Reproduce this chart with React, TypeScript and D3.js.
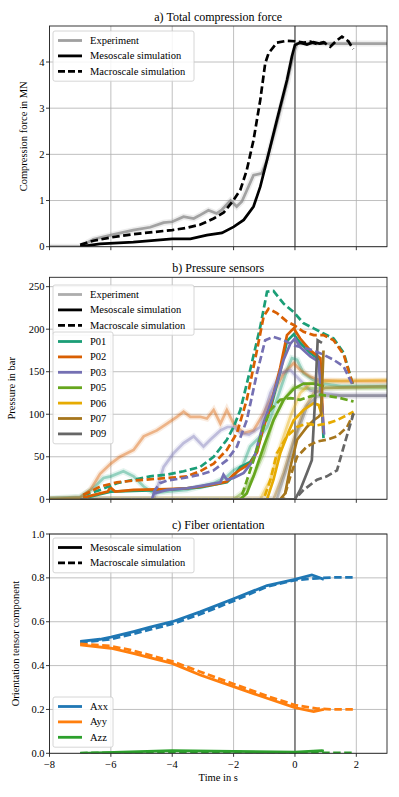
import React from "react";
import * as d3 from "d3";

type Pt = [number, number];

// a) total compression force (t in s, MN)
const forceExperiment: Pt[] = [[-8,0],[-7,0],[-6.57,0.16],[-6,0.25],[-5.27,0.36],[-4.72,0.42],[-4.28,0.52],[-4,0.54],[-3.63,0.65],[-3.3,0.61],[-3.08,0.69],[-2.82,0.79],[-2.55,0.72],[-2.38,0.8],[-2.1,1.0],[-1.9,0.87],[-1.73,0.98],[-1.35,1.55],[-1.08,1.59],[-0.91,1.88],[-0.59,2.67],[-0.26,3.54],[-0.04,4.19],[0.07,4.4],[0.5,4.41],[1,4.4],[2,4.4],[3,4.4]];
const forceMeso: Pt[] = [[-7,0],[-6.36,0.06],[-5.27,0.1],[-4,0.17],[-3.41,0.17],[-2.87,0.25],[-2.38,0.3],[-2,0.43],[-1.67,0.58],[-1.35,0.87],[-1.13,1.3],[-0.91,1.88],[-0.59,2.74],[-0.26,3.61],[-0.1,4.12],[0,4.37],[0.17,4.42],[0.39,4.38],[0.6,4.43],[0.8,4.4],[1.0,4.42]];
const forceMacro: Pt[] = [[-7,0.04],[-6.57,0.13],[-6,0.2],[-5.27,0.27],[-4.72,0.31],[-4,0.36],[-3.52,0.41],[-3.08,0.48],[-2.65,0.61],[-2.32,0.74],[-2,1.01],[-1.78,1.23],[-1.57,1.66],[-1.35,2.31],[-1.13,3.18],[-0.97,3.97],[-0.86,4.19],[-0.59,4.42],[-0.26,4.46],[0,4.45],[0.28,4.42],[0.5,4.44],[0.72,4.39],[0.93,4.43],[1.15,4.33],[1.37,4.47],[1.53,4.55],[1.74,4.45],[1.9,4.28]];

// b) pressure sensors (bar)
const sensorNames = ["P01", "P02", "P03", "P05", "P06", "P07", "P09"];
const sensorColors = ["#1b9e77", "#d95f02", "#7570b3", "#66a61e", "#e6ab02", "#a6761d", "#666666"];

const p01Exp: Pt[] = [[-8,1],[-7,3],[-6.57,13],[-6.24,25],[-6,27],[-5.59,33],[-5.26,27],[-4.93,15],[-4.6,7],[-4.17,9],[-3.52,11],[-3.09,15],[-2.65,19],[-2.2,27],[-2,34],[-1.7,40],[-1.46,62],[-1.13,74],[-0.91,85],[-0.59,117],[-0.26,152],[-0.1,166],[0.07,164],[0.28,148],[0.61,140],[0.93,136],[1.5,133],[3,133]];
const p02Exp: Pt[] = [[-8,0],[-7,2],[-6.67,11],[-6.35,30],[-6,42],[-5.7,50],[-5.26,58],[-4.93,74],[-4.5,81],[-4.17,89],[-3.85,97],[-3.63,103],[-3.41,97],[-3.09,97],[-2.87,95],[-2.65,105],[-2.43,89],[-2.22,105],[-2,89],[-1.67,78],[-1.35,81],[-1.02,101],[-0.7,125],[-0.37,148],[-0.04,160],[0.17,152],[0.5,144],[0.83,140],[1.5,139],[3,139]];
const p03Exp: Pt[] = [[-8,0],[-4.6,0],[-4.28,38],[-3.96,54],[-3.63,66],[-3.3,74],[-2.98,62],[-2.76,70],[-2.43,81],[-2.2,85],[-2,85],[-1.78,78],[-1.5,76],[-1.13,85],[-0.8,125],[-0.48,148],[-0.15,152],[0.17,140],[0.5,128],[0.93,125],[1.5,122],[3,122]];
const p05Exp: Pt[] = [[-8,0],[-2,0],[-1.7,8],[-1.35,27],[-1.02,54],[-0.7,93],[-0.37,117],[-0.04,132],[0.28,130],[1,131],[3,131]];
const p06Exp: Pt[] = [[-8,0],[-1.13,0],[-0.8,23],[-0.48,62],[-0.15,97],[0.17,125],[0.5,136],[1,139],[3,140]];
const p07Exp: Pt[] = [[-8,0],[-0.7,0],[-0.37,31],[-0.04,70],[0.28,105],[0.61,125],[1,131],[3,133]];
const p09Exp: Pt[] = [[-8,0],[-0.59,0],[-0.26,38],[0.07,78],[0.39,109],[0.72,121],[1.2,122],[3,122]];

const p01Meso: Pt[] = [[-6.9,1],[-6.35,6],[-6,9],[-5.26,10],[-4.17,11],[-3.09,14],[-2.22,20],[-2,27],[-1.78,38],[-1.46,44],[-1.24,56],[-1.02,88],[-0.8,106],[-0.48,150],[-0.26,186],[-0.04,194],[0.17,184],[0.5,172],[0.8,164],[0.93,72]];
const p02Meso: Pt[] = [[-6.9,2],[-6.35,7],[-6.1,9],[-6.02,14],[-5.86,9],[-5.26,11],[-4.17,12],[-3.52,13],[-3.09,15],[-2.54,18],[-2.22,21],[-2,29],[-1.78,35],[-1.46,42],[-1.24,55],[-1.02,85],[-0.8,109],[-0.48,155],[-0.26,193],[-0.04,201],[0.17,189],[0.5,175],[0.83,166],[0.93,78]];
const p03Meso: Pt[] = [[-4.66,0],[-4.6,7],[-4.17,11],[-3.52,13],[-2.87,17],[-2.43,20],[-2.33,29],[-2.22,23],[-2,25],[-1.67,31],[-1.35,46],[-1.02,90],[-0.7,123],[-0.37,164],[-0.15,183],[0,189],[0.17,179],[0.5,168],[0.77,162],[0.95,76]];
const p05Meso: Pt[] = [[-7,0],[-1.78,0],[-1.57,7],[-1.35,27],[-1.02,62],[-0.7,93],[-0.37,117],[-0.04,130],[0.28,136],[0.61,136],[0.83,134],[0.95,133]];
const p06Meso: Pt[] = [[-7,0],[-0.91,0],[-0.7,23],[-0.48,54],[-0.2,80],[-0.04,93],[0.28,105],[0.61,113],[0.77,111],[0.9,97]];
const p07Meso: Pt[] = [[-7,0],[-0.48,0],[-0.32,7],[-0.15,38],[0.07,70],[0.39,85],[0.61,93],[0.77,97],[0.85,100],[0.93,175]];
const p09Meso: Pt[] = [[-7,0],[0,0],[0.17,11],[0.39,31],[0.55,46],[0.66,120],[0.74,187],[0.88,184]];

const p01Macro: Pt[] = [[-6.9,5],[-6.35,11],[-5.8,19],[-5.26,23],[-4.72,27],[-4.17,29],[-3.63,33],[-3.09,38],[-2.65,50],[-2.22,70],[-2,85],[-1.78,105],[-1.46,152],[-1.13,203],[-0.91,244],[-0.7,245],[-0.37,230],[-0.04,220],[0.28,207],[0.61,201],[0.93,195],[1.26,189],[1.59,172],[1.91,132]];
const p02Macro: Pt[] = [[-6.9,5],[-6.35,15],[-5.8,20],[-5.26,22],[-4.17,25],[-3.52,27],[-3.09,33],[-2.65,42],[-2.22,58],[-1.89,78],[-1.57,117],[-1.24,175],[-1.02,215],[-0.86,224],[-0.59,219],[-0.26,209],[-0.04,205],[0.28,197],[0.61,193],[0.93,193],[1.26,187],[1.59,170],[1.91,132]];
const p03Macro: Pt[] = [[-4.62,8],[-4.4,19],[-4.17,22],[-3.63,25],[-3.09,29],[-2.65,34],[-2.22,46],[-1.89,62],[-1.57,93],[-1.24,148],[-0.97,187],[-0.7,191],[-0.37,187],[-0.04,181],[0.3,178],[0.61,175],[0.93,170],[1.26,164],[1.59,156],[1.91,132]];
const p05Macro: Pt[] = [[-7,0],[-1.78,0],[-1.67,11],[-1.35,46],[-1.02,85],[-0.8,105],[-0.48,117],[-0.15,119],[0.17,117],[0.5,121],[0.83,123],[1.15,121],[1.48,119],[1.91,115]];
const p06Macro: Pt[] = [[-7,0],[-1.02,0],[-0.8,23],[-0.59,54],[-0.26,74],[0.07,85],[0.39,89],[0.72,87],[1.04,89],[1.37,93],[1.7,99],[1.91,103]];
const p07Macro: Pt[] = [[-7,0],[-0.37,0],[-0.15,27],[0.07,50],[0.39,62],[0.72,68],[1.04,70],[1.37,74],[1.7,85],[1.91,101]];
const p09Macro: Pt[] = [[-7,0],[0,0],[0.28,11],[0.72,23],[1.04,27],[1.37,34],[1.59,62],[1.91,101]];

const sensorExp = [p01Exp, p02Exp, p03Exp, p05Exp, p06Exp, p07Exp, p09Exp];
const sensorMeso = [p01Meso, p02Meso, p03Meso, p05Meso, p06Meso, p07Meso, p09Meso];
const sensorMacro = [p01Macro, p02Macro, p03Macro, p05Macro, p06Macro, p07Macro, p09Macro];

// c) fiber orientation
const orientNames = ["Axx", "Ayy", "Azz"];
const orientColors = ["#1f77b4", "#ff7f0e", "#2ca02c"];
const axxMeso: Pt[] = [[-7,0.51],[-6.35,0.52],[-6,0.53],[-5.26,0.555],[-4.72,0.575],[-4,0.6],[-3.09,0.645],[-2,0.705],[-0.91,0.765],[0,0.793],[0.55,0.813],[0.72,0.805],[0.94,0.793]];
const axxMacro: Pt[] = [[-7,0.505],[-6,0.52],[-5.26,0.545],[-4,0.59],[-3.09,0.634],[-2,0.695],[-0.91,0.76],[0,0.79],[0.72,0.798],[1.26,0.802],[1.91,0.802]];
const ayyMeso: Pt[] = [[-7,0.494],[-6,0.479],[-5.27,0.456],[-4,0.41],[-3.09,0.357],[-2,0.304],[-0.91,0.251],[0,0.208],[0.61,0.19],[0.94,0.2]];
const ayyMacro: Pt[] = [[-7,0.499],[-6,0.489],[-5.27,0.468],[-4,0.419],[-3.09,0.372],[-2,0.316],[-0.91,0.261],[0,0.22],[0.72,0.204],[1.26,0.2],[1.91,0.2]];
const azzMeso: Pt[] = [[-7,0],[-4,0.012],[-2,0.009],[0,0.005],[0.88,0.012],[0.94,0.01]];
const azzMacro: Pt[] = [[-7,0.001],[-4,0.005],[-2,0.005],[0,0.003],[1,0.002],[1.91,0.002]];
const orientMeso = [axxMeso, ayyMeso, azzMeso];
const orientMacro = [axxMacro, ayyMacro, azzMacro];

const xTicks = [-8, -6, -4, -2, 0, 2];
const forceTicks = [0, 1, 2, 3, 4];
const pressureTicks = [0, 50, 100, 150, 200, 250];
const orientTicks = [0, 0.2, 0.4, 0.6, 0.8, 1.0];

const FONT = "Liberation Serif, Times New Roman, DejaVu Serif, serif";
const LEFT = 49.5;
const RIGHT = 387;
const x = d3.scaleLinear().domain([-8, 3]).range([LEFT, RIGHT]);
const DASH = "7.5,3.5";
const LW = 2.7;

function pathOf(data: Pt[], y: d3.ScaleLinear<number, number>) {
  return d3.line<Pt>().x((d) => x(d[0])).y((d) => y(d[1]))(data) || "";
}

function Panel({ id, top, bottom, yMax, yTicks, fmt, title, ylabel, ylabelX, xLabels, children }: any) {
  const y = d3.scaleLinear().domain([0, yMax]).range([bottom, top]);
  return (
    <g>
      <defs>
        <clipPath id={id}>
          <rect x={LEFT} y={top} width={RIGHT - LEFT} height={bottom - top} />
        </clipPath>
      </defs>
      {xTicks.map((t) => (
        <line key={"gx" + t} x1={x(t)} x2={x(t)} y1={top} y2={bottom} stroke="#b0b0b0" strokeWidth={0.8} />
      ))}
      {yTicks.map((t: number) => (
        <line key={"gy" + t} x1={LEFT} x2={RIGHT} y1={y(t)} y2={y(t)} stroke="#b0b0b0" strokeWidth={0.8} />
      ))}
      <line x1={x(0)} x2={x(0)} y1={top} y2={bottom} stroke="#777" strokeWidth={1.6} />
      <g clipPath={`url(#${id})`}>{children(y)}</g>
      <rect x={LEFT} y={top} width={RIGHT - LEFT} height={bottom - top} fill="none" stroke="#222" strokeWidth={0.9} />
      {xTicks.map((t) => (
        <g key={"tx" + t}>
          <line x1={x(t)} x2={x(t)} y1={bottom} y2={bottom + 3.5} stroke="#222" strokeWidth={0.9} />
          {xLabels && (
            <text x={x(t)} y={bottom + 14.5} textAnchor="middle" fontSize={10.5} fontFamily={FONT}>
              {t < 0 ? "\u2212" + Math.abs(t) : t}
            </text>
          )}
        </g>
      ))}
      {yTicks.map((t: number) => (
        <g key={"ty" + t}>
          <line x1={LEFT - 3.5} x2={LEFT} y1={y(t)} y2={y(t)} stroke="#222" strokeWidth={0.9} />
          <text x={LEFT - 5} y={y(t) + 3.6} textAnchor="end" fontSize={10.5} fontFamily={FONT}>
            {fmt(t)}
          </text>
        </g>
      ))}
      <text x={(LEFT + RIGHT) / 2} y={top - 5} textAnchor="middle" fontSize={12} fontFamily={FONT}>
        {title}
      </text>
      <text
        transform={`translate(${ylabelX},${(top + bottom) / 2}) rotate(-90)`}
        textAnchor="middle"
        fontSize={10.5}
        fontFamily={FONT}
      >
        {ylabel}
      </text>
    </g>
  );
}

type Entry = { label: string; color: string; dash?: string; opacity?: number };

function Legend({ x0, y0, w, entries }: { x0: number; y0: number; w: number; entries: Entry[] }) {
  const step = 15.4;
  const h = entries.length * step + 4;
  return (
    <g>
      <rect x={x0} y={y0} width={w} height={h} rx={2} fill="white" fillOpacity={0.85} stroke="#cccccc" strokeWidth={0.8} />
      {entries.map((e, i) => {
        const cy = y0 + 9.5 + i * step;
        return (
          <g key={e.label}>
            <line x1={x0 + 5} x2={x0 + 29} y1={cy} y2={cy} stroke={e.color} strokeWidth={2.8} strokeDasharray={e.dash} strokeOpacity={e.opacity ?? 1} />
            <text x={x0 + 37} y={cy + 3.5} fontSize={10.5} fontFamily={FONT}>
              {e.label}
            </text>
          </g>
        );
      })}
    </g>
  );
}

const simEntries: Entry[] = [
  { label: "Mesoscale simulation", color: "#000" },
  { label: "Macroscale simulation", color: "#000", dash: "7,3" },
];

export default function App() {
  return (
    <svg width={399} height={797} style={{ position: "absolute", left: 0, top: 0 }} fontFamily={FONT}>
      <rect width={399} height={797} fill="white" />
      <Panel
        id="cpa"
        top={26}
        bottom={246.7}
        yMax={4.78}
        yTicks={forceTicks}
        fmt={(t: number) => String(t)}
        title="a) Total compression force"
        ylabel="Compression force in MN"
        ylabelX={27}
        xLabels={false}
      >
        {(y: any) => (
          <g fill="none">
            <path d={pathOf(forceExperiment, y)} stroke="#888" strokeWidth={6} strokeOpacity={0.15} />
            <path d={pathOf(forceExperiment, y)} stroke="#888" strokeWidth={LW} strokeOpacity={0.75} />
            <path d={pathOf(forceMeso, y)} stroke="#000" strokeWidth={LW} />
            <path d={pathOf(forceMacro, y)} stroke="#000" strokeWidth={LW} strokeDasharray={DASH} />
          </g>
        )}
      </Panel>
      <Legend x0={53} y0={31} w={141} entries={[{ label: "Experiment", color: "#888", opacity: 0.8 }, ...simEntries]} />

      <Panel
        id="cpb"
        top={277.3}
        bottom={499.3}
        yMax={261}
        yTicks={pressureTicks}
        fmt={(t: number) => String(t)}
        title="b) Pressure sensors"
        ylabel="Pressure in bar"
        ylabelX={15}
        xLabels={false}
      >
        {(y: any) => (
          <g fill="none">
            {sensorExp.map((s, i) => (
              <g key={"e" + i}>
                <path d={pathOf(s, y)} stroke={sensorColors[i]} strokeWidth={6} strokeOpacity={0.12} />
                <path d={pathOf(s, y)} stroke={sensorColors[i]} strokeWidth={LW} strokeOpacity={0.4} />
              </g>
            ))}
            {sensorMeso.map((s, i) => (
              <path key={"m" + i} d={pathOf(s, y)} stroke={sensorColors[i]} strokeWidth={LW} />
            ))}
            {sensorMacro.map((s, i) => (
              <path key={"d" + i} d={pathOf(s, y)} stroke={sensorColors[i]} strokeWidth={LW} strokeDasharray={DASH} />
            ))}
          </g>
        )}
      </Panel>
      <Legend x0={53} y0={285} w={141} entries={[{ label: "Experiment", color: "#999", opacity: 0.8 }, ...simEntries]} />
      <Legend x0={53} y0={332} w={60} entries={sensorNames.map((n, i) => ({ label: n, color: sensorColors[i] }))} />

      <Panel
        id="cpc"
        top={534}
        bottom={753.3}
        yMax={1.0}
        yTicks={orientTicks}
        fmt={(t: number) => t.toFixed(1)}
        title="c) Fiber orientation"
        ylabel="Orientation tensor component"
        ylabelX={19}
        xLabels={true}
      >
        {(y: any) => (
          <g fill="none">
            {orientMeso.map((s, i) => (
              <path key={"m" + i} d={pathOf(s, y)} stroke={orientColors[i]} strokeWidth={2.8} />
            ))}
            {orientMacro.map((s, i) => (
              <path key={"d" + i} d={pathOf(s, y)} stroke={orientColors[i]} strokeWidth={2.8} strokeDasharray={DASH} />
            ))}
          </g>
        )}
      </Panel>
      <text x={(LEFT + RIGHT) / 2} y={781} textAnchor="middle" fontSize={10.5} fontFamily={FONT}>
        Time in s
      </text>
      <Legend x0={53} y0={538} w={141} entries={simEntries} />
      <Legend x0={53} y0={697} w={60} entries={orientNames.map((n, i) => ({ label: n, color: orientColors[i] }))} />
    </svg>
  );
}
